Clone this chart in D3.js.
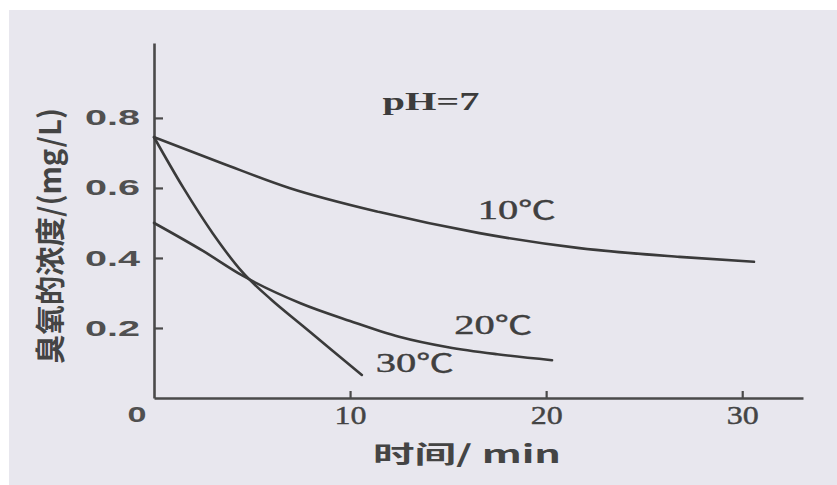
<!DOCTYPE html>
<html>
<head>
<meta charset="utf-8">
<script src="https://cdn.jsdelivr.net/npm/d3@7"></script>
<style>
  html, body { margin: 0; padding: 0; background: #fff; }
  svg { display: block; }
</style>
</head>
<body>
<svg width="837" height="485"></svg>
<script>
// values
var timeTicks = [10, 20, 30];
var concTicks = [0.2, 0.4, 0.6, 0.8];

var t10 = [0, 3.5, 6.9, 11.5, 16.6, 21.7, 26.8, 30.6];
var c10 = [0.745, 0.67, 0.60, 0.531, 0.471, 0.428, 0.403, 0.389];
var t20 = [0, 2.5, 4.5, 7.5, 10, 12.5, 15, 17.5, 20.3];
var c20 = [0.50, 0.42, 0.35, 0.27, 0.22, 0.175, 0.145, 0.125, 0.108];
var t30 = [0, 1.5, 3, 4.5, 6, 7.5, 9, 10.6];
var c30 = [0.745, 0.60, 0.47, 0.36, 0.28, 0.21, 0.14, 0.066];

var seriesTemps = ["10", "20", "30"];
var labelT = [18.5, 17.3, 13.3];
var labelC = [0.537, 0.209, 0.10];

var svg = d3.select("svg");

svg.append("rect")
    .attr("x", 9).attr("y", 10)
    .attr("width", 828).attr("height", 475)
    .attr("fill", "#e8e7ee");

var x = d3.scaleLinear().domain([0, 33.1]).range([154, 803]),
    y = d3.scaleLinear().domain([0, 1.014]).range([398, 43]);

var ink = "#3a3a3a";

var xAxis = d3.axisBottom(x)
    .tickValues(timeTicks)
    .tickSizeInner(-7)
    .tickSizeOuter(0)
    .tickPadding(8);

var yAxis = d3.axisLeft(y)
    .tickValues(concTicks)
    .tickSizeInner(-9)
    .tickSizeOuter(0)
    .tickPadding(14)
    .tickFormat(d3.format(".1f"));

var gx = svg.append("g")
    .attr("transform", "translate(0," + y(0) + ")")
    .call(xAxis);

var gy = svg.append("g")
    .attr("transform", "translate(" + x(0) + ",0)")
    .call(yAxis);

[gx, gy].forEach(function(g) {
    g.select(".domain").attr("stroke", "#4a4a4a").attr("stroke-width", 2.6);
    g.selectAll(".tick line").attr("stroke", "#4a4a4a").attr("stroke-width", 2.2);
});

gx.selectAll(".tick text")
    .attr("font-family", "'Liberation Serif', serif")
    .attr("font-size", 25)
    .attr("fill", "#444")
    .attr("stroke", "#444")
    .attr("stroke-width", 0.4)
    .attr("textLength", function(d) { return String(d).length * 16; })
    .attr("lengthAdjust", "spacingAndGlyphs");

gy.selectAll(".tick text")
    .attr("font-family", "'Liberation Sans', sans-serif")
    .attr("font-weight", "bold")
    .attr("font-size", 22)
    .attr("fill", "#505050")
    .attr("textLength", 55)
    .attr("lengthAdjust", "spacingAndGlyphs");

// corner zero
svg.append("text")
    .attr("x", x(0) - 17)
    .attr("y", y(0) + 16)
    .attr("dy", "0.35em")
    .attr("text-anchor", "middle")
    .attr("font-family", "'Liberation Sans', sans-serif")
    .attr("font-weight", "bold")
    .attr("font-size", 22)
    .attr("fill", "#505050")
    .attr("textLength", 19)
    .attr("lengthAdjust", "spacingAndGlyphs")
    .text("0");

var line = d3.line()
    .x(function(d) { return x(d[0]); })
    .y(function(d) { return y(d[1]); })
    .curve(d3.curveMonotoneX);

[[t10, c10], [t20, c20], [t30, c30]].forEach(function(s) {
    svg.append("path")
        .datum(d3.zip(s[0], s[1]))
        .attr("fill", "none")
        .attr("stroke", ink)
        .attr("stroke-width", 2.6)
        .attr("stroke-linecap", "round")
        .attr("d", line);
});

var lbl = svg.selectAll(".series-label")
    .data(seriesTemps)
    .enter().append("text")
    .attr("class", "series-label")
    .attr("x", function(d, i) { return x(labelT[i]); })
    .attr("y", function(d, i) { return y(labelC[i]); })
    .attr("dy", "0.35em")
    .attr("text-anchor", "middle")
    .attr("font-size", 27)
    .attr("fill", "#404040")
    .attr("stroke", "#404040")
    .attr("stroke-width", 0.4)
    .attr("textLength", 78)
    .attr("lengthAdjust", "spacingAndGlyphs");

lbl.append("tspan")
    .attr("font-family", "'Liberation Serif', serif")
    .text(function(d) { return d; });
lbl.append("tspan")
    .attr("font-family", "'Noto Sans CJK SC', sans-serif")
    .attr("font-size", 25)
    .text("℃");

svg.append("text")
    .attr("x", 431)
    .attr("y", 110)
    .attr("text-anchor", "middle")
    .attr("font-family", "'Liberation Serif', serif")
    .attr("font-weight", "bold")
    .attr("font-size", 26)
    .attr("fill", "#3c3c3c")
    .attr("textLength", 97)
    .attr("lengthAdjust", "spacingAndGlyphs")
    .text("pH=7");

svg.append("text")
    .attr("x", 467)
    .attr("y", 455)
    .attr("dy", "0.35em")
    .attr("text-anchor", "middle")
    .attr("font-family", "'Noto Sans CJK SC', sans-serif")
    .attr("font-weight", "bold")
    .attr("font-size", 24)
    .attr("fill", "#444")
    .attr("textLength", 188)
    .attr("lengthAdjust", "spacingAndGlyphs")
    .text("时间/ min");

svg.append("text")
    .attr("transform", "translate(50,236) rotate(-90)")
    .attr("dy", "0.35em")
    .attr("text-anchor", "middle")
    .attr("font-family", "'Noto Sans CJK SC', sans-serif")
    .attr("font-weight", "bold")
    .attr("font-size", 30)
    .attr("fill", "#444")
    .attr("textLength", 256)
    .attr("lengthAdjust", "spacingAndGlyphs")
    .text("臭氧的浓度/(mg/L)");
</script>
</body>
</html>
